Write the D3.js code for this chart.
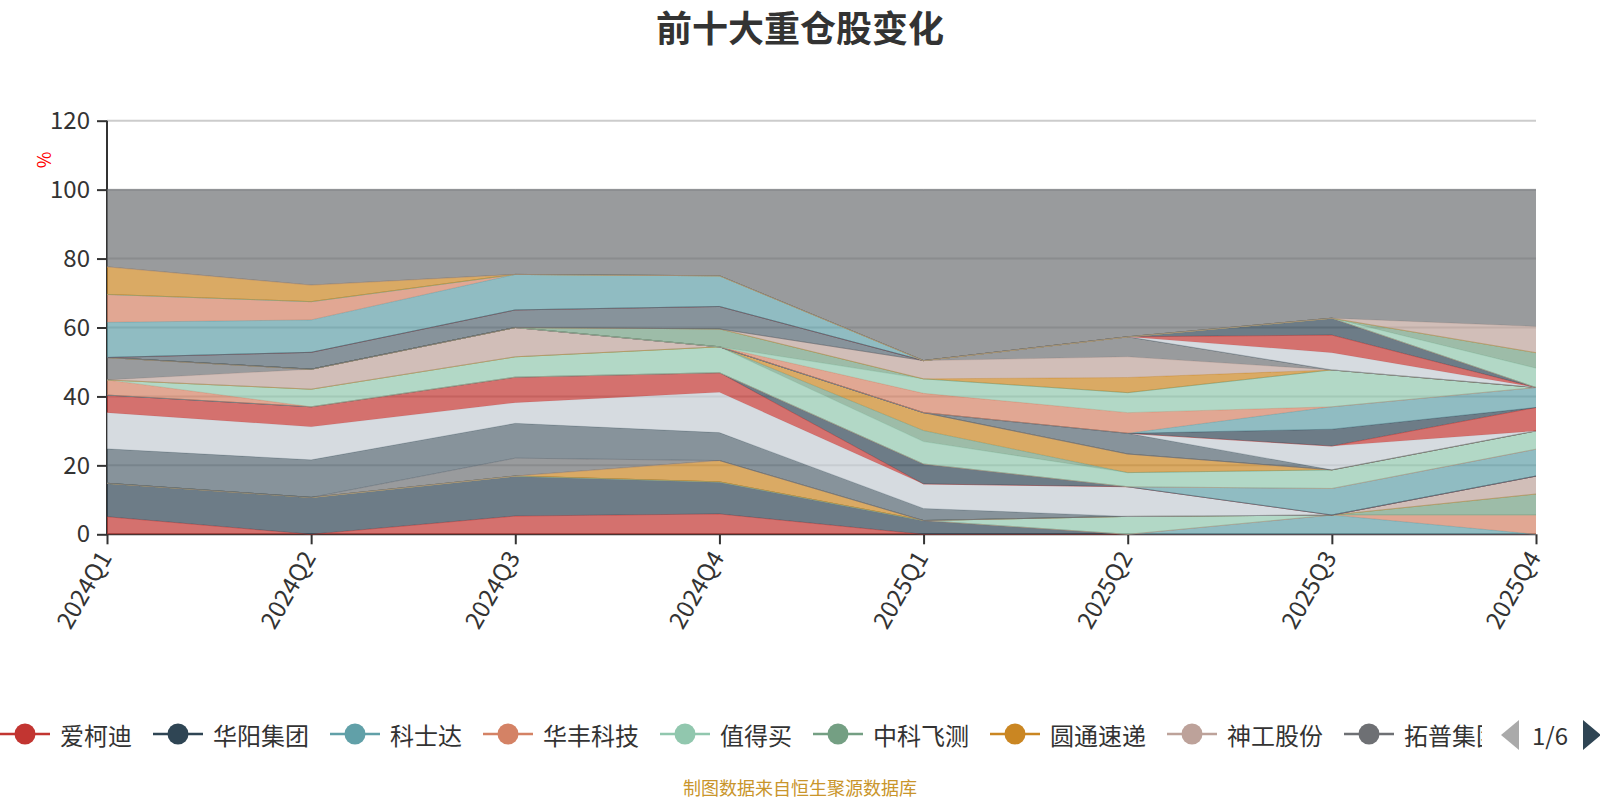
<!DOCTYPE html>
<html>
<head>
<meta charset="utf-8">
<script src="https://cdn.jsdelivr.net/npm/d3@7"></script>
<style>
  body { margin: 0; background: #fff; }
  svg { display: block; }
  text { font-family: "Noto Sans CJK SC", "Noto Sans", sans-serif; }
</style>
</head>
<body>
<div id="chart"></div>
<script>
// 季度
const quarters = ['2024Q1', '2024Q2', '2024Q3', '2024Q4', '2025Q1', '2025Q2', '2025Q3', '2025Q4'];

// 图例里能看到的只有第一页，后面的名称用占位
const stockNames = [
  '爱柯迪', '华阳集团', '科士达', '华丰科技', '值得买', '中科飞测', '圆通速递', '神工股份', '拓普集团',
  '持仓10', '持仓11', '持仓12', '持仓13', '持仓14', '持仓15', '持仓16', '持仓17', '持仓18', '持仓19',
  '持仓20', '持仓21', '持仓22', '持仓23', '持仓24', '持仓25', '持仓26', '持仓27', '持仓28', '持仓29',
  '持仓30', '持仓31', '持仓32', '持仓33', '持仓34', '持仓35', '持仓36', '持仓37', '持仓38', '持仓39',
  '持仓40', '持仓41', '其他'
];

// 每只股票各季度占净值比(%)，按图例顺序
const seriesWeights = [
  [5.1, 0, 5.3, 5.9, 0, 0, 0, 0],
  [9.7, 10.7, 11.6, 9.3, 4.0, 0, 0, 0],
  [0, 0, 0, 0, 0, 0, 5.6, 0],
  [0, 0, 0, 0, 0, 0, 0, 5.6],
  [0, 0, 0, 0, 0, 5.2, 0, 0],
  [0, 0, 0, 0, 0, 0, 0, 6.1],
  [0, 0, 0, 6.2, 0, 0, 0, 0],
  [0, 0, 0, 0, 0, 0, 0, 5.2],
  [0, 0, 5.2, 0, 0, 0, 0, 0],
  [10.0, 10.9, 10.1, 8.1, 3.5, 0, 0, 0],
  [10.5, 9.6, 6.0, 11.7, 7.1, 8.6, 0, 0],
  [5.1, 5.8, 7.4, 5.7, 0, 0, 0, 0],
  [0, 0, 0, 0, 5.8, 0, 0, 0],
  [0, 0, 0, 0, 0, 0, 7.7, 7.8],
  [4.4, 0, 0, 0, 0, 0, 0, 0],
  [0, 5.1, 5.9, 7.5, 6.5, 4.1, 5.4, 5.3],
  [0, 0, 0, 0, 3.2, 0, 0, 0],
  [0, 0, 0, 0, 5.2, 5.4, 0, 0],
  [0, 5.8, 8.5, 0, 0, 0, 0, 0],
  [6.5, 0, 0, 0, 0, 0, 0, 0],
  [0, 0, 0, 0, 0, 6.0, 0, 0],
  [0, 0, 0, 0, 0, 0, 6.9, 0],
  [0, 0, 0, 0, 0, 0, 0, 6.8],
  [0, 0, 0, 0, 0, 0, 4.9, 0],
  [0, 0, 0, 0, 0, 0, 6.5, 5.8],
  [0, 0, 0, 0, 5.6, 6.0, 0, 0],
  [0, 0, 0, 0, 4.2, 5.8, 10.7, 0],
  [0, 0, 0, 5.2, 0, 0, 0, 0],
  [0, 0, 0, 0, 0, 4.4, 0, 0],
  [0, 0, 0, 0, 5.3, 6.0, 0, 0],
  [0, 0, 0, 0, 0, 5.8, 0, 0],
  [0, 4.9, 5.1, 6.5, 0, 0, 0, 0],
  [0, 0, 0, 0, 0, 0, 5.0, 0],
  [0, 0, 0, 0, 0, 0, 5.1, 0],
  [0, 0, 0, 0, 0, 0, 4.9, 0],
  [10.2, 9.4, 10.3, 8.9, 0, 0, 0, 0],
  [8.1, 5.3, 0, 0, 0, 0, 0, 0],
  [0, 0, 0, 0, 0, 0, 0, 5.6],
  [0, 0, 0, 0, 0, 0, 0, 4.5],
  [8.0, 4.8, 0, 0, 0, 0, 0, 0],
  [0, 0, 0, 0, 0, 0, 0, 7.6]
];
// 前十大以外
const otherWeights = [22.4, 27.7, 24.6, 25.0, 49.6, 42.7, 37.3, 39.7];

const yTicks = [0, 20, 40, 60, 80, 100, 120];
const legendPage = '1/6';

const palette = ['#c23531', '#2f4554', '#61a0a8', '#d48265', '#91c7ae', '#749f83',
  '#ca8622', '#bda29a', '#6e7074', '#546570', '#c4ccd3'];

const width = 1600, height = 800;
const margin = { top: 120.7, right: 64, bottom: 265.7, left: 107 };
const innerW = width - margin.left - margin.right;
const innerH = height - margin.top - margin.bottom;

// 堆叠用的表
const table = quarters.map((q, i) => {
  const row = { quarter: q };
  stockNames.forEach((n, k) => {
    row[n] = k < seriesWeights.length ? seriesWeights[k][i] : otherWeights[i];
  });
  return row;
});
const stacked = d3.stack().keys(stockNames)(table);

const color = d3.scaleOrdinal().domain(stockNames).range(palette);

const svg = d3.select('#chart').append('svg')
  .attr('width', width).attr('height', height)
  .attr('viewBox', `0 0 ${width} ${height}`);

const x = d3.scalePoint().domain(quarters).range([0, innerW]);
const y = d3.scaleLinear().domain([0, 120]).range([innerH, 0]);

const g = svg.append('g').attr('transform', `translate(${margin.left},${margin.top})`);

// 网格线
g.append('g')
  .selectAll('line')
  .data(yTicks.filter(d => d > 0))
  .join('line')
  .attr('x1', 0).attr('x2', innerW)
  .attr('y1', d => y(d)).attr('y2', d => y(d))
  .attr('stroke', '#cccccc').attr('stroke-width', 2);

// 坐标轴（画在面积下面）
const yAxisG = g.append('g')
  .call(d3.axisLeft(y).tickValues(yTicks).tickSize(10).tickPadding(7));
const xAxisG = g.append('g')
  .attr('transform', `translate(0,${innerH})`)
  .call(d3.axisBottom(x).tickSize(10).tickPadding(0));

[yAxisG, xAxisG].forEach(ax => {
  ax.select('.domain').attr('stroke', '#333').attr('stroke-width', 2);
  ax.selectAll('.tick line').attr('stroke', '#333').attr('stroke-width', 2);
  ax.selectAll('text').attr('fill', '#333').style('font-size', '24px');
});
yAxisG.select('.domain').attr('d', `M0,${innerH}V0`);
xAxisG.select('.domain').attr('d', `M0,0H${innerW}`);

xAxisG.selectAll('.tick text')
  .attr('y', 0).attr('dy', null)
  .attr('text-anchor', 'end')
  .attr('dominant-baseline', 'central')
  .attr('transform', 'translate(-4,18) rotate(-60)');

// 单位
svg.append('text')
  .attr('transform', 'translate(43,160) rotate(-90)')
  .attr('text-anchor', 'middle')
  .attr('dominant-baseline', 'central')
  .attr('fill', '#ff0000')
  .style('font-size', '18px')
  .text('%');

// 堆叠面积
const area = d3.area()
  .x(d => x(d.data.quarter))
  .y0(d => y(d[0]))
  .y1(d => y(d[1]));
const topLine = d3.line()
  .x(d => x(d.data.quarter))
  .y(d => y(d[1]));

const layers = g.append('g').selectAll('g')
  .data(stacked)
  .join('g');
layers.append('path')
  .attr('d', area)
  .attr('fill', d => color(d.key))
  .attr('fill-opacity', 0.7);
layers.append('path')
  .attr('d', topLine)
  .attr('fill', 'none')
  .attr('stroke', d => color(d.key))
  .attr('stroke-opacity', 0.6)
  .attr('stroke-width', 1);

// 标题
svg.append('text')
  .attr('x', 800).attr('y', 26)
  .attr('text-anchor', 'middle')
  .attr('dominant-baseline', 'central')
  .attr('fill', '#333')
  .style('font-size', '36px')
  .style('font-weight', 'bold')
  .text('前十大重仓股变化');

// 图例（第一页）
svg.append('clipPath').attr('id', 'legendClip')
  .append('rect').attr('x', 0).attr('y', 700).attr('width', 1482).attr('height', 70);
const legend = svg.append('g').attr('clip-path', 'url(#legendClip)');
const legendY = 734;
let lx = 0;
stockNames.slice(0, 9).forEach(name => {
  const item = legend.append('g').attr('transform', `translate(${lx},${legendY})`);
  item.append('line')
    .attr('x1', 0).attr('x2', 50)
    .attr('stroke', color(name)).attr('stroke-width', 2.5);
  item.append('circle')
    .attr('cx', 25).attr('r', 10.5)
    .attr('fill', color(name));
  const t = item.append('text')
    .attr('x', 60)
    .attr('dominant-baseline', 'central')
    .attr('fill', '#333')
    .style('font-size', '24px')
    .text(name);
  lx += 60 + t.node().getComputedTextLength() + 21;
});

// 翻页
svg.append('path')
  .attr('d', 'M1519,720L1501,735L1519,750Z')
  .attr('fill', '#aaaaaa');
svg.append('text')
  .attr('x', 1550).attr('y', legendY)
  .attr('text-anchor', 'middle')
  .attr('dominant-baseline', 'central')
  .attr('fill', '#333')
  .style('font-size', '24px')
  .text(legendPage);
svg.append('path')
  .attr('d', 'M1583,720L1601,735L1583,750Z')
  .attr('fill', '#2f4554');

// 数据来源
svg.append('text')
  .attr('x', 800).attr('y', 787)
  .attr('text-anchor', 'middle')
  .attr('dominant-baseline', 'central')
  .attr('fill', '#c9952b')
  .style('font-size', '18px')
  .text('制图数据来自恒生聚源数据库');
</script>
</body>
</html>
